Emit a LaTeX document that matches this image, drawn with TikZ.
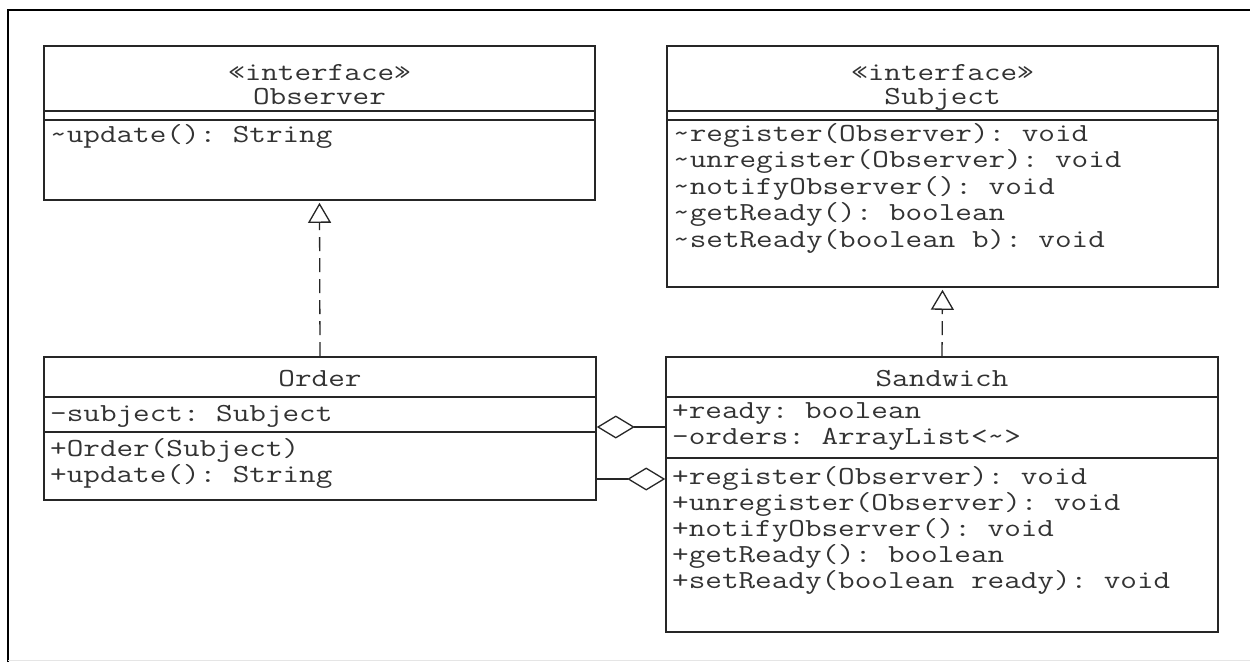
\documentclass[tikz,border=0pt]{standalone}
\usepackage{fontspec}
\setmonofont[FakeStretch=1.24]{Latin Modern Mono}
\usetikzlibrary{arrows.meta}
\begin{document}
\begin{tikzpicture}[x=1pt,y=-1pt,
  umlbox/.style={draw=black!85, line width=1.6pt, rectangle, inner sep=0pt, fill=white},
  sepline/.style={draw=black!85, line width=1.6pt},
  txt/.style={anchor=base west, inner sep=0pt, text=black!80, font=\ttfamily\fontsize{26}{26}\selectfont},
  ctxt/.style={txt, anchor=base},
  realize/.style={draw=black!85, line width=1.3pt, dash pattern=on 14pt off 7pt, -{Triangle[open, length=20pt, width=23pt]}},
  aggr/.style={draw=black!85, line width=1.3pt, -{Diamond[open, length=38pt, width=23pt]}}]
\useasboundingbox (0,0) rectangle (1250,662);
\fill[white] (0,0) rectangle (1250,662);
% outer frame
\draw[line width=1.8pt] (8,662) -- (8,10) -- (1250,10);
\draw[gray!20, line width=1pt] (8,660) -- (1250,660);

% Observer
\node[umlbox, minimum width=551pt, minimum height=154pt] (observer) at (319.5,123) {};
\draw[sepline] (observer.west |- 0,111) -- (observer.east |- 0,111);
\draw[sepline] (observer.west |- 0,120) -- (observer.east |- 0,120);
\node[ctxt] (obsst) at (319.5,80) {«interface»};
\node[ctxt] (obsname) at (319.5,104) {Observer};
\node[txt] (obsop1) at (50,142) {\textasciitilde update(): String};

% Subject
\node[umlbox, minimum width=551pt, minimum height=241pt] (subject) at (942.5,166.5) {};
\draw[sepline] (subject.west |- 0,111) -- (subject.east |- 0,111);
\draw[sepline] (subject.west |- 0,120) -- (subject.east |- 0,120);
\node[ctxt] (subst) at (942.5,80) {«interface»};
\node[ctxt] (subname) at (942.5,104) {Subject};
\node[txt] (subop1) at (673,141) {\textasciitilde register(Observer): void};
\node[txt] (subop2) at (673,167.5) {\textasciitilde unregister(Observer): void};
\node[txt] (subop3) at (673,194) {\textasciitilde notifyObserver(): void};
\node[txt] (subop4) at (673,220.5) {\textasciitilde getReady(): boolean};
\node[txt] (subop5) at (673,247) {\textasciitilde setReady(boolean b): void};

% Order
\node[umlbox, minimum width=552pt, minimum height=143pt] (order) at (320,428.5) {};
\draw[sepline] (order.west |- 0,397) -- (order.east |- 0,397);
\draw[sepline] (order.west |- 0,432) -- (order.east |- 0,432);
\node[ctxt] (ordname) at (320,386) {Order};
\node[txt] (ordat1) at (50,421) {-subject: Subject};
\node[txt] (ordop1) at (50,456) {+Order(Subject)};
\node[txt] (ordop2) at (50,482) {+update(): String};

% Sandwich
\node[umlbox, minimum width=552pt, minimum height=275pt] (sandwich) at (942,494.5) {};
\draw[sepline] (sandwich.west |- 0,397) -- (sandwich.east |- 0,397);
\draw[sepline] (sandwich.west |- 0,458) -- (sandwich.east |- 0,458);
\node[ctxt] (sanname) at (942,386) {Sandwich};
\node[txt] (sanat1) at (672,418) {+ready: boolean};
\node[txt] (sanat2) at (672,444) {-orders: ArrayList<\textasciitilde>};
\node[txt] (sanop1) at (672,484) {+register(Observer): void};
\node[txt] (sanop2) at (672,510) {+unregister(Observer): void};
\node[txt] (sanop3) at (672,536) {+notifyObserver(): void};
\node[txt] (sanop4) at (672,562) {+getReady(): boolean};
\node[txt] (sanop5) at (672,588) {+setReady(boolean ready): void};

% connectors
\draw[realize] (order.north) -- ([yshift=-2pt]observer.south);
\draw[realize] (sandwich.north) -- ([yshift=-2pt]subject.south);
\draw[aggr] (sandwich.west |- 0,427) -- (order.east |- 0,427);
\draw[aggr] (order.east |- 0,479) -- (sandwich.west |- 0,479);
\end{tikzpicture}
\end{document}
